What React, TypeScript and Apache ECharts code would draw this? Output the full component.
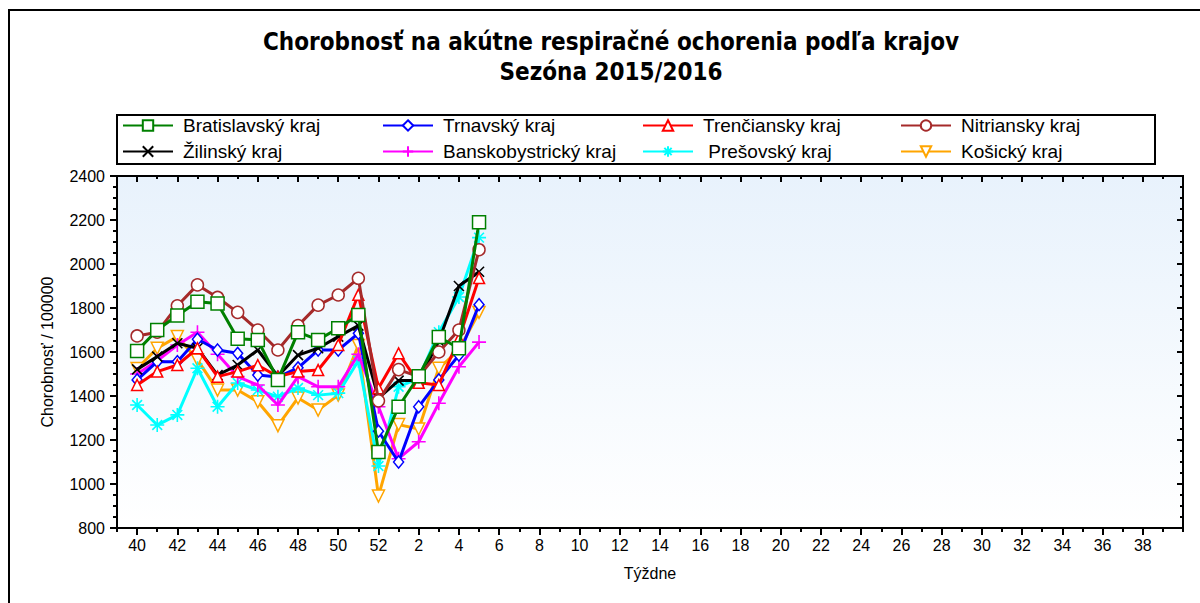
import React, { useEffect, useRef } from 'react';
import * as echarts from 'echarts';

// Axis categories: left edge, weeks 40..52, weeks 1..39, right edge
const weekLabels: string[] = [
  '40', '41', '42', '43', '44', '45', '46', '47', '48', '49', '50', '51', '52',
  '1', '2', '3', '4', '5', '6', '7', '8', '9', '10', '11', '12', '13', '14', '15',
  '16', '17', '18', '19', '20', '21', '22', '23', '24', '25', '26', '27', '28',
  '29', '30', '31', '32', '33', '34', '35', '36', '37', '38', '39',
];
const categories: string[] = ['', ...weekLabels, ' '];

// Weeks with data
const dataWeeks: string[] = ['40', '41', '42', '43', '44', '45', '46', '47', '48', '49', '50', '51', '52', '1', '2', '3', '4', '5'];

const bratislavsky = [1605, 1700, 1766, 1828, 1820, 1660, 1655, 1473, 1690, 1655, 1708, 1768, 1145, 1351, 1490, 1668, 1617, 2190];
const trnavsky = [1473, 1556, 1556, 1658, 1609, 1594, 1495, 1486, 1528, 1609, 1609, 1685, 1240, 1100, 1351, 1473, 1586, 1815];
const trenciansky = [1450, 1511, 1541, 1617, 1488, 1511, 1540, 1488, 1511, 1518, 1632, 1860, 1435, 1594, 1460, 1450, 1660, 1936];
const nitriansky = [1673, 1690, 1810, 1905, 1848, 1780, 1700, 1609, 1720, 1813, 1859, 1935, 1378, 1520, 1488, 1600, 1700, 2065];
const zilinsky = [1521, 1579, 1640, 1617, 1495, 1541, 1609, 1490, 1586, 1617, 1670, 1720, 1390, 1470, 1470, 1650, 1900, 1965];
const banskobystricky = [1500, 1560, 1632, 1690, 1590, 1488, 1450, 1359, 1488, 1442, 1442, 1590, 1351, 1115, 1192, 1367, 1533, 1645];
const presovsky = [1359, 1268, 1314, 1526, 1351, 1459, 1427, 1397, 1436, 1404, 1413, 1560, 1082, 1442, 1480, 1690, 1850, 2120];
const kosicky = [1525, 1617, 1670, 1564, 1427, 1427, 1374, 1265, 1391, 1336, 1404, 1630, 945, 1270, 1250, 1526, 1609, 1780];

const FONT = '"Liberation Sans", Arial, sans-serif';
const NARROW = '"Liberation Sans Narrow", "DejaVu Sans Condensed", sans-serif';

const X_PATH = 'path://M0,0L10,10M10,0L0,10';
const PLUS_PATH = 'path://M5,0L5,10M0,5L10,5';
const STAR_PATH = 'path://M5,0L5,10M0,5L10,5M1.5,1.5L8.5,8.5M8.5,1.5L1.5,8.5';

type Def = {
  name: string;
  values: number[];
  color: string;
  symbol: string;
  size: number | number[];
  hollow: boolean;
  rotate?: number;
  z: number;
  legendLeft: number;
  legendTop: number;
};

const defs: Def[] = [
  { name: 'Bratislavský kraj', values: bratislavsky, color: '#008000', symbol: 'rect', size: 13, hollow: true, z: 9, legendLeft: 122, legendTop: 116 },
  { name: 'Trnavský kraj', values: trnavsky, color: '#0000ff', symbol: 'diamond', size: [10, 12], hollow: true, z: 5, legendLeft: 382, legendTop: 116 },
  { name: 'Trenčiansky kraj', values: trenciansky, color: '#ff0000', symbol: 'triangle', size: 11, hollow: true, z: 7, legendLeft: 642, legendTop: 116 },
  { name: 'Nitriansky kraj', values: nitriansky, color: '#a52a2a', symbol: 'circle', size: 12, hollow: true, z: 8, legendLeft: 900, legendTop: 116 },
  { name: 'Žilinský kraj', values: zilinsky, color: '#000000', symbol: X_PATH, size: 10, hollow: false, z: 6, legendLeft: 122, legendTop: 142 },
  { name: 'Banskobystrický kraj', values: banskobystricky, color: '#ff00ff', symbol: PLUS_PATH, size: 14, hollow: false, z: 4, legendLeft: 382, legendTop: 142 },
  { name: ' Prešovský kraj', values: presovsky, color: '#00ffff', symbol: STAR_PATH, size: 14, hollow: false, z: 3, legendLeft: 642, legendTop: 142 },
  { name: 'Košický kraj', values: kosicky, color: '#ffa500', symbol: 'triangle', size: 12, hollow: true, rotate: 180, z: 2, legendLeft: 900, legendTop: 142 },
];

const isMajor = (v: string) => v.trim() !== '' && Number(v) % 2 === 0;

export default function App() {
  const ref = useRef<HTMLDivElement>(null);

  useEffect(() => {
    if (!ref.current) return;
    const chart = echarts.init(ref.current, null, { renderer: 'svg' });

    const series = defs.map((d) => ({
      name: d.name,
      type: 'line',
      z: d.z,
      data: d.values.map((v, i) => [dataWeeks[i], v]),
      symbol: d.symbol,
      symbolSize: d.size,
      symbolRotate: d.rotate ?? 0,
      showSymbol: true,
      lineStyle: { color: d.color, width: 3 },
      itemStyle: d.hollow
        ? { color: '#ffffff', borderColor: d.color, borderWidth: 1.5 }
        : { color: d.color, borderColor: d.color, borderWidth: 1.6 },
      emphasis: { disabled: true },
    }));

    const legends = defs.map((d) => ({
      data: [d.name],
      left: d.legendLeft,
      top: d.legendTop,
      padding: 0,
      itemWidth: 50,
      itemHeight: 13,
      selectedMode: false,
      textStyle: { fontSize: 19, fontFamily: FONT, color: '#000', padding: [0, 0, 0, 5] },
    }));

    const baseX = {
      type: 'category',
      data: categories,
      boundaryGap: false,
      gridIndex: 0,
    };

    const option: any = {
      animation: false,
      backgroundColor: '#ffffff',
      graphic: [
        {
          type: 'rect',
          shape: { x: 9, y: 10, width: 1400, height: 800 },
          style: { fill: 'none', stroke: '#000', lineWidth: 2 },
          silent: true,
        },
        {
          type: 'rect',
          shape: { x: 117, y: 115, width: 1038, height: 49 },
          style: { fill: 'none', stroke: '#000', lineWidth: 2 },
          silent: true,
        },
        {
          type: 'text',
          x: 611,
          y: 42,
          style: {
            text: 'Chorobnosť na akútne respiračné ochorenia podľa krajov',
            fill: '#000',
            font: `bold 24px ${NARROW}`,
            textAlign: 'center',
            textVerticalAlign: 'middle',
          },
        },
        {
          type: 'text',
          x: 611,
          y: 72,
          style: {
            text: 'Sezóna 2015/2016',
            fill: '#000',
            font: `bold 24px ${NARROW}`,
            textAlign: 'center',
            textVerticalAlign: 'middle',
          },
        },
      ],
      legend: legends,
      grid: {
        left: 117,
        right: 17,
        top: 176,
        bottom: 75,
        show: true,
        borderColor: '#000',
        borderWidth: 2,
        backgroundColor: new echarts.graphic.LinearGradient(0, 0, 0, 1, [
          { offset: 0, color: '#e8f2fc' },
          { offset: 1, color: '#ffffff' },
        ]),
      },
      xAxis: [
        {
          ...baseX,
          position: 'bottom',
          name: 'Týždne',
          nameLocation: 'middle',
          nameGap: 37,
          nameTextStyle: { fontSize: 16, fontFamily: FONT, color: '#000' },
          axisLine: { show: true, lineStyle: { color: '#000', width: 2 } },
          axisTick: { show: true, interval: (_i: number, v: string) => isMajor(v), length: 7, lineStyle: { color: '#000', width: 2 } },
          axisLabel: {
            interval: 0,
            margin: 9,
            fontSize: 16,
            fontFamily: FONT,
            color: '#000',
            formatter: (v: string) => (isMajor(v) ? v : ''),
          },
          splitLine: { show: false },
        },
        {
          ...baseX,
          position: 'bottom',
          axisLine: { show: false },
          axisTick: { show: true, interval: 0, length: 4, lineStyle: { color: '#000', width: 2 } },
          axisLabel: { show: false },
          splitLine: { show: false },
        },
        {
          ...baseX,
          position: 'top',
          axisLine: { show: false },
          axisTick: { show: true, inside: true, interval: (_i: number, v: string) => isMajor(v), length: 6, lineStyle: { color: '#000', width: 2 } },
          axisLabel: { show: false },
          splitLine: { show: false },
        },
        {
          ...baseX,
          position: 'top',
          axisLine: { show: false },
          axisTick: { show: true, inside: true, interval: 0, length: 3, lineStyle: { color: '#000', width: 2 } },
          axisLabel: { show: false },
          splitLine: { show: false },
        },
      ],
      yAxis: [
        {
          type: 'value',
          min: 800,
          max: 2400,
          interval: 200,
          position: 'left',
          name: 'Chorobnosť / 100000',
          nameLocation: 'middle',
          nameGap: 62,
          nameTextStyle: { fontSize: 16, fontFamily: FONT, color: '#000' },
          axisLine: { show: true, lineStyle: { color: '#000', width: 2 } },
          axisTick: { show: true, length: 7, lineStyle: { color: '#000', width: 2 } },
          minorTick: { show: true, splitNumber: 4, length: 4, lineStyle: { color: '#000', width: 2 } },
          axisLabel: { margin: 12, fontSize: 16, fontFamily: FONT, color: '#000', formatter: (v: number) => String(v) },
          splitLine: { show: false },
        },
        {
          type: 'value',
          min: 800,
          max: 2400,
          interval: 200,
          position: 'right',
          axisLine: { show: true, lineStyle: { color: '#000', width: 2 } },
          axisTick: { show: true, inside: true, length: 6, lineStyle: { color: '#000', width: 2 } },
          minorTick: { show: true, splitNumber: 4, length: 3, lineStyle: { color: '#000', width: 2 } },
          axisLabel: { show: false },
          splitLine: { show: false },
        },
      ],
      series,
    };

    chart.setOption(option);
    return () => chart.dispose();
  }, []);

  return <div ref={ref} style={{ position: 'absolute', left: 0, top: 0, width: 1200, height: 603 }} />;
}
